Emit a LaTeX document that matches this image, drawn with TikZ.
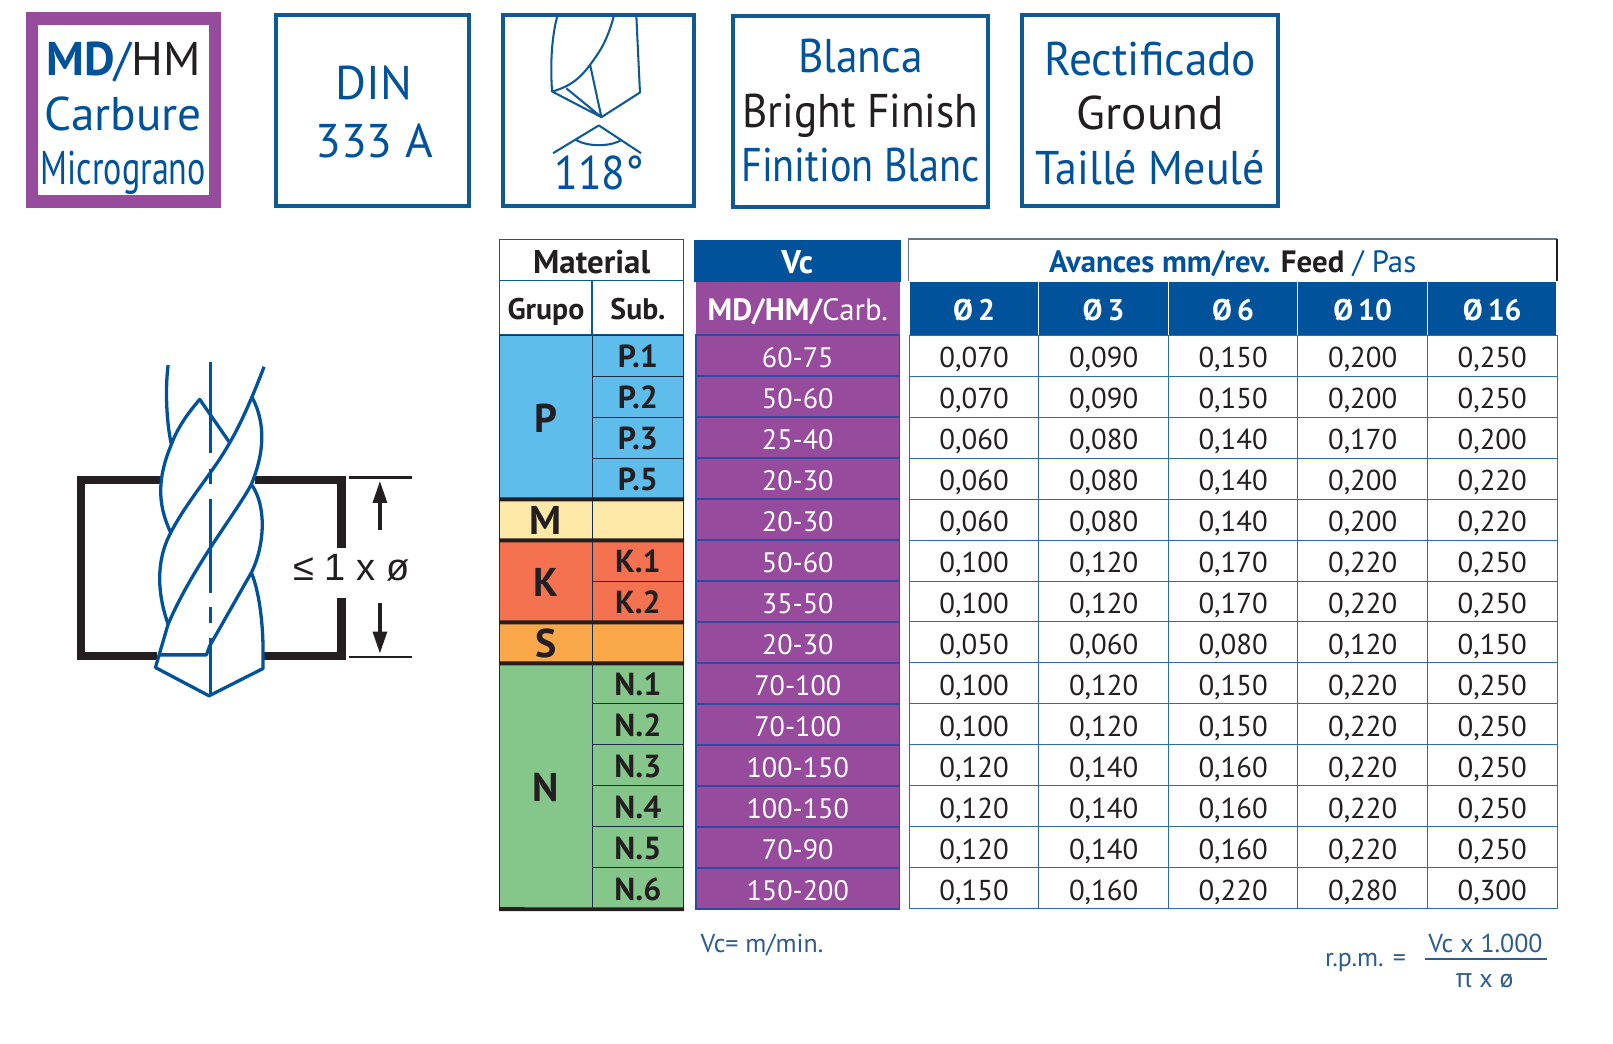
\documentclass[tikz,border=0pt]{standalone}
\usepackage{fontspec}
\setmainfont{PT Sans}
\newfontfamily\arialfont{Liberation Sans}
\newfontfamily\greekfont{Open Sans}
\usetikzlibrary{arrows.meta}

\definecolor{toolblue}{HTML}{00529B}
\definecolor{framblue}{HTML}{0F5A94}
\definecolor{toolpurple}{HTML}{964B9C}
\definecolor{cellline}{HTML}{2F4B9F}
\definecolor{gridline}{HTML}{2F6DA5}
\definecolor{ink}{HTML}{231F20}
\definecolor{notecol}{HTML}{2F5C8E}
\definecolor{grpP}{HTML}{5FBDEB}
\definecolor{grpM}{HTML}{FEE9A8}
\definecolor{grpK}{HTML}{F47250}
\definecolor{grpS}{HTML}{FBA84A}
\definecolor{grpN}{HTML}{85C78A}

\newcommand{\fsz}[1]{\fontsize{#1}{#1}\selectfont}
\newcommand{\narrowed}[2]{\scalebox{#1}[1]{#2}}

\tikzset{
  topbox/.style={draw=framblue, line width=1.9pt, fill=white, inner sep=0pt, align=center},
  toptext/.style={font=\fontsize{23}{26.5}\selectfont, text=toolblue, align=center, inner sep=0pt},
  feedcell/.style={draw=gridline, line width=.45pt, minimum width=63pt, minimum height=19.93pt,
    inner sep=0pt, text=ink, font=\fsz{14}, text height=12pt, text depth=0pt},
  vccell/.style={draw=cellline, line width=.75pt, fill=toolpurple, minimum width=99pt, minimum height=19.93pt,
    inner sep=0pt, text=white, font=\fsz{13.7}, text height=12pt, text depth=0pt},
  subcell/.style={draw=ink!70!toolblue, line width=.4pt, minimum width=44.5pt, minimum height=19.93pt,
    inner sep=0pt, text=ink, font=\bfseries\fsz{15.5}, text height=12pt, text depth=0pt},
  grpcell/.style={draw=ink!70!toolblue, line width=.4pt, minimum width=45pt, inner sep=0pt,
    text=ink, font=\bfseries\fsz{19.5}, text height=14.8pt, text depth=0pt},
  headbox/.style={draw=framblue, line width=.7pt, fill=white, inner sep=0pt, text=ink,
    font=\bfseries\fsz{14.5}, text height=11.5pt, text depth=0pt},
  feedhead/.style={draw=white, line width=.5pt, fill=toolblue, minimum width=63pt, minimum height=26pt,
    inner sep=0pt, text=white, font=\bfseries\fsz{14.5}, text height=11.5pt, text depth=0pt},
  grprule/.style={draw=ink, line width=1.9pt},
  note/.style={text=notecol, inner sep=0pt, font=\fsz{12.6}},
  drillline/.style={draw=toolblue, line width=1.6pt, line join=round},
  plate/.style={draw=ink, line width=4.2pt},
  dimline/.style={draw=ink, line width=1.3pt},
  dimarrow/.style={draw=ink, line width=2.3pt, -{Triangle[length=11pt,width=6.5pt]}},
}

\begin{document}
\begin{tikzpicture}[x=.5pt,y=-.5pt]
  \useasboundingbox[fill=white] (0,0) rectangle (1569,1014.6);

  % top row of boxes
  \node[draw=toolpurple, line width=6pt, fill=white, minimum width=89pt, minimum height=89pt, inner sep=0pt] (matbox) at (120,107) {};
  \node[toptext] (mattext) at (120,115) {{\bfseries MD}/\textcolor{ink}{HM}\\Carbure\\\narrowed{.72}{Micrograno}};
  \node[topbox, minimum width=94pt, minimum height=93pt] (dinbox) at (362.5,107.5) {};
  \node[toptext] (dintext) at (364,109) {DIN\\[1.5pt]333 A};
  \node[topbox, minimum width=93pt, minimum height=93pt] (tipbox) at (582.5,107.5) {};
  \node[toptext] (tiptext) at (583,168) {\narrowed{.92}{118°}};
  \node[topbox, minimum width=124pt, minimum height=93pt] (finbox) at (837,108.5) {};
  \node[toptext] (fintext) at (837,108) {\narrowed{.92}{Blanca}\\\narrowed{.916}{\textcolor{ink}{Bright Finish}}\\\narrowed{.85}{Finition Blanc}};
  \node[topbox, minimum width=124.5pt, minimum height=93pt] (grdbox) at (1118.5,107.5) {};
  \node[toptext] (grdtext) at (1119,110) {\narrowed{.96}{Rectificado}\\\textcolor{ink}{Ground}\\\narrowed{.93}{Taillé Meulé}};

  % small drill point
  \draw[framblue, line width=1pt, line join=round]
    (542,16) .. controls (537,35) and (535,60) .. (537,89) -- (585,114) -- (622.5,90) -- (619,16)
    (597,16) .. controls (590,42) and (582,52) .. (574,63) .. controls (566,74) and (556,84) .. (537,89)
    (574,63) -- (585,114) (551,86) -- (585,114)
    (538,149) -- (582.5,122) -- (623.5,149)
    (560,136) .. controls (572,143) and (593,143) .. (605,136);

  % table heads
  \node[headbox, font=\bfseries\fsz{16}, text height=13pt, minimum width=89.5pt, minimum height=20pt] (material) at (575.5,253) {Material};
  \node[headbox, minimum width=45pt, minimum height=26.5pt] (grupo) at (531,299.5) {Grupo};
  \node[headbox, minimum width=44.5pt, minimum height=26.5pt] (sub) at (620.5,299.5) {Sub.};
  \node[fill=toolblue, minimum width=100.5pt, minimum height=20.5pt, inner sep=0pt, text=white, font=\bfseries\fsz{16}, text height=13pt, text depth=0pt] (vc) at (775.5,253.5) {Vc};
  \node[fill=toolpurple, minimum width=99pt, minimum height=26pt, inner sep=0pt, text=white, font=\fsz{15}, text height=12pt, text depth=0pt] (vcmat) at (776,300) {{\bfseries MD/HM/}Carb.};
  \node[minimum width=315pt, minimum height=20pt, inner sep=0pt, font=\fsz{15}, text=toolblue, text height=12.5pt, text depth=0pt] (feed) at (1199,253)
    {{\bfseries Avances mm/rev. \textcolor{ink}{Feed}} / Pas};
  \draw[gray!80!toolblue, line width=.7pt] (feed.south west) -- (feed.north west) -- (feed.north east);
  \draw[ink, line width=1.2pt] (feed.north east) -- (feed.south east);
  \foreach \col/\dia in {0/2,1/3,2/6,3/10,4/16}
    \node[feedhead] (dia-\col) at ({947.5+126*\col},300) {Ø\,\dia};

  % material groups
  \node[grpcell, fill=grpP, minimum height=79.7pt] (grp-P) at (531,405.7) {P};
  \node[grpcell, fill=grpM, minimum height=19.93pt] (grp-M) at (531,505.3) {M};
  \node[grpcell, fill=grpK, minimum height=39.86pt] (grp-K) at (531,565.1) {K};
  \node[grpcell, fill=grpS, minimum height=19.93pt] (grp-S) at (531,624.9) {S};
  \node[grpcell, fill=grpN, minimum height=119.6pt] (grp-N) at (531,764.4) {N};

  % one row per subgroup: Vc, then the five feeds
  \foreach \row/\lab/\tone/\vcval/\fa/\fb/\fc/\fd/\fe in {
    0/P.1/grpP/60-75/070/090/150/200/250,
    1/P.2/grpP/50-60/070/090/150/200/250,
    2/P.3/grpP/25-40/060/080/140/170/200,
    3/P.5/grpP/20-30/060/080/140/200/220,
    4//grpM/20-30/060/080/140/200/220,
    5/K.1/grpK/50-60/100/120/170/220/250,
    6/K.2/grpK/35-50/100/120/170/220/250,
    7//grpS/20-30/050/060/080/120/150,
    8/N.1/grpN/70-100/100/120/150/220/250,
    9/N.2/grpN/70-100/100/120/150/220/250,
    10/N.3/grpN/100-150/120/140/160/220/250,
    11/N.4/grpN/100-150/120/140/160/220/250,
    12/N.5/grpN/70-90/120/140/160/220/250,
    13/N.6/grpN/150-200/150/160/220/280/300}{
    \node[subcell, fill=\tone] (sub-\row) at (620.5,{345.9+39.86*\row}) {\lab};
    \node[vccell] (vc-\row) at (776,{345.9+39.86*\row}) {\vcval};
    \node[feedcell] (fa-\row) at (947.5,{345.9+39.86*\row}) {0,\fa};
    \node[feedcell] (fb-\row) at (1073.5,{345.9+39.86*\row}) {0,\fb};
    \node[feedcell] (fc-\row) at (1199.5,{345.9+39.86*\row}) {0,\fc};
    \node[feedcell] (fd-\row) at (1325.5,{345.9+39.86*\row}) {0,\fd};
    \node[feedcell] (fe-\row) at (1451.5,{345.9+39.86*\row}) {0,\fe};
  }
  \draw[grprule] (grp-P.south west) -- (sub-3.south east);
  \draw[grprule] (grp-M.south west) -- (sub-4.south east);
  \draw[grprule] (grp-K.south west) -- (sub-6.south east);
  \draw[grprule] (grp-S.south west) -- (sub-7.south east);
  \draw[grprule] (grp-N.south west) -- (sub-13.south east);

  % foot notes
  \node[note, anchor=west] (vcnote) at (681,919) {Vc= m/min.};
  \node[note, anchor=east] (rpm) at (1368,936) {r.p.m. =};
  \node[note] (rpmtop) at (1445,918) {Vc x 1.000};
  \node[note] (rpmbot) at (1444,954) {{\greekfont π} x ø};
  \coordinate (rpmL) at (1386,933);
  \coordinate (rpmR) at (1505,933);
  \draw[notecol, line width=.7pt] (rpmL) -- (rpmR);

  % drill in the plate
  \begin{scope}[shift={(58.2,339.9)},x=.162pt,y=-.162pt]
    \draw[plate] (300,392) -- (64,392) -- (64,920) -- (293,920);
    \draw[plate] (585,392) -- (846,392) -- (846,595);
    \draw[plate] (846,745) -- (846,920) -- (610,920);
    \draw[dimline] (868,385) -- (1058,385);
    \draw[dimline] (868,923) -- (1058,923);
    \draw[dimarrow] (961,542) -- (961,393);
    \draw[dimarrow] (961,762) -- (961,915);
    \node[text=ink, font=\arialfont\fsz{18.5}, inner sep=0pt] (depth) at (875,655) {≤ 1 x ø};
    \draw[drillline] (453,38) -- (453,312) (453,358) -- (453,405) (453,450) -- (453,730)
      (453,772) -- (453,822) (453,865) -- (453,1035);
    \draw[drillline] (325,47) .. controls (316,120) and (320,220) .. (335,285);
    \draw[drillline] (335,285) .. controls (355,230) and (390,185) .. (420,150) -- (510,280);
    \draw[drillline] (613,52) .. controls (580,140) and (540,230) .. (510,280)
      .. controls (460,370) and (385,450) .. (333,550);
    \draw[drillline] (335,285) .. controls (295,380) and (290,460) .. (333,550);
    \draw[drillline] (578,145) .. controls (622,230) and (610,320) .. (575,405);
    \draw[drillline] (575,405) .. controls (530,490) and (400,650) .. (325,825)
      -- (287,955) -- (448,1040) -- (610,958) -- (610,900) .. controls (610,830) and (600,730) .. (575,670);
    \draw[drillline] (575,405) .. controls (622,470) and (615,590) .. (575,670);
    \draw[drillline] (333,550) .. controls (285,640) and (295,740) .. (325,825);
    \draw[drillline] (575,670) -- (450,890) -- (440,917) -- (300,917);
  \end{scope}
\end{tikzpicture}
\end{document}
